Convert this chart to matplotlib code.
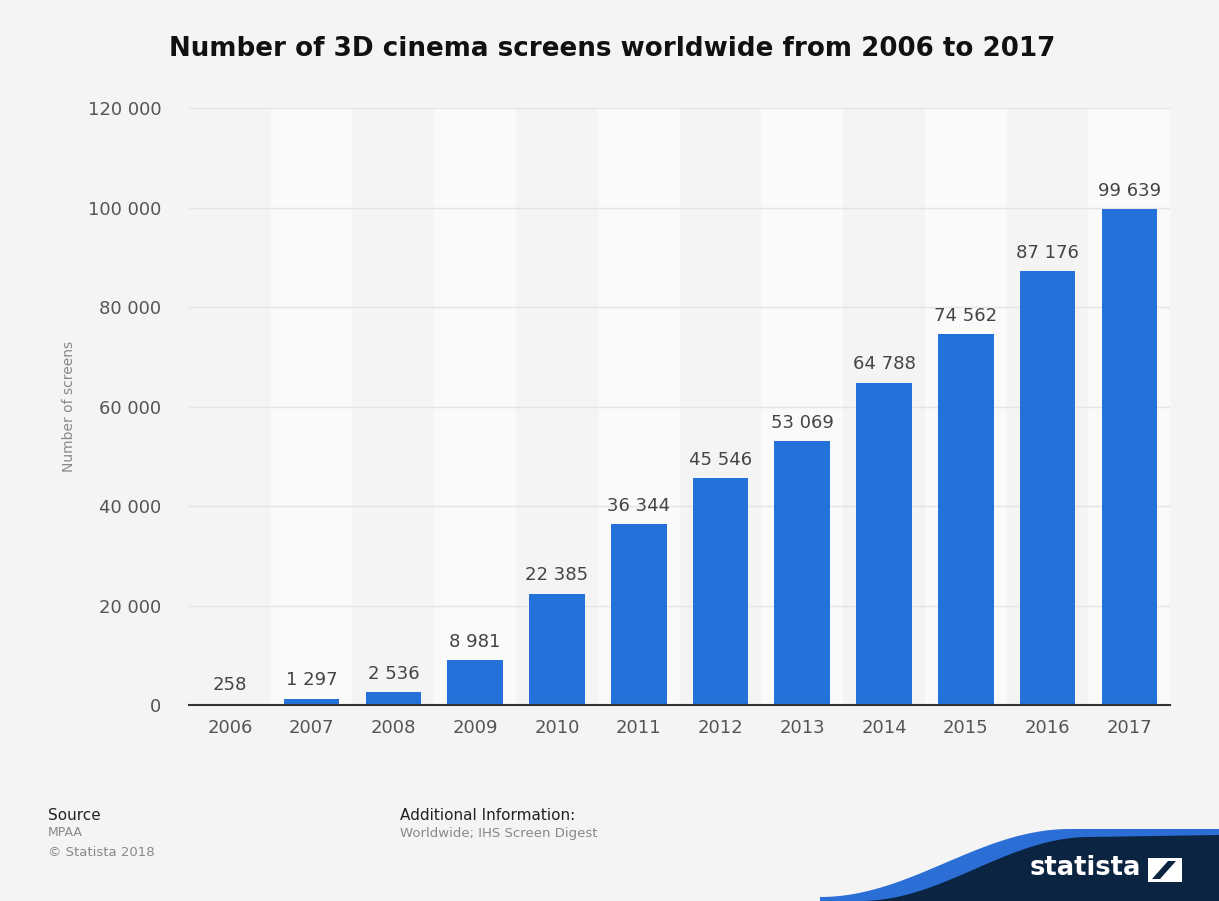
#!/usr/bin/env python3
"""Number of 3D cinema screens worldwide, 2006-2017 (Statista style)."""

import matplotlib
matplotlib.use("Agg")
import matplotlib.pyplot as plt
from matplotlib.patches import Polygon, Rectangle
import numpy as np

years = ["2006", "2007", "2008", "2009", "2010", "2011",
         "2012", "2013", "2014", "2015", "2016", "2017"]
screens = [258, 1297, 2536, 8981, 22385, 36344,
           45546, 53069, 64788, 74562, 87176, 99639]
y_ticks = [0, 20000, 40000, 60000, 80000, 100000, 120000]

BG = "#f4f4f4"
BAR = "#2472d9"
W, H = 1219, 901


def fmt(v):
    return f"{v:,}".replace(",", " ")


def px(x, y):
    # pixel position (from top-left) -> figure fraction
    return x / W, 1 - y / H


fig = plt.figure(figsize=(W / 100, H / 100), dpi=100, facecolor=BG)
ax = fig.add_axes([0.155, 0.2175, 0.805, 0.6625])
ax.set_facecolor(BG)

x = np.arange(len(years))
# alternating column bands
for i in x:
    if i % 2 == 1:
        ax.axvspan(i - 0.5, i + 0.5, color="#fafafa", zorder=0, lw=0)

ax.set_yticks(y_ticks)
ax.set_yticklabels([fmt(t) for t in y_ticks])
ax.yaxis.grid(True, color="#e4e4e4", lw=1, zorder=1)
ax.set_axisbelow(True)

ax.bar(x, screens, width=0.68, color=BAR, zorder=3)
for xi, v in zip(x, screens):
    ax.text(xi, v + 1900, fmt(v), ha="center", va="bottom",
            fontsize=13, color="#444444", zorder=4)

ax.set_xlim(-0.5, len(years) - 0.5)
ax.set_ylim(0, 120000)
ax.set_xticks(x)
ax.set_xticklabels(years)
ax.tick_params(axis="both", length=0, labelsize=13, colors="#555555")
ax.tick_params(axis="x", pad=10)
ax.tick_params(axis="y", pad=20)
for s in ["top", "right", "left"]:
    ax.spines[s].set_visible(False)
ax.spines["bottom"].set_color("#333333")
ax.spines["bottom"].set_linewidth(1.5)
ax.spines["bottom"].set_zorder(5)
ax.set_ylabel("Number of screens", fontsize=10, color="#888888", labelpad=8)

fig.text(0.502, 0.946, "Number of 3D cinema screens worldwide from 2006 to 2017",
         ha="center", va="center", fontsize=18.8, fontweight="bold", color="#111111")

# footer
fig.text(*px(48, 815), "Source", fontsize=11, color="#222222", va="center")
fig.text(*px(48, 832), "MPAA", fontsize=9, color="#888888", va="center")
fig.text(*px(48, 852), "\u00a9 Statista 2018", fontsize=9.5, color="#888888", va="center")
fig.text(*px(400, 815), "Additional Information:", fontsize=11, color="#222222", va="center")
fig.text(*px(400, 833), "Worldwide; IHS Screen Digest", fontsize=9.5, color="#888888", va="center")

# statista logo wave
t = np.linspace(0, 1, 60)
s = 0.5 - 0.5 * np.cos(np.pi * t)
blue = [(820, H)] + list(zip(820 + t * 250, H - (4 + 68 * s))) + [(W, H - 72), (W, H)]
dark = [(860, H)] + list(zip(860 + t * 230, H - 64 * s)) + [(W, H - 66), (W, H)]


def to_fig(pts):
    return [px(a, b) for a, b in pts]


fig.add_artist(Polygon(to_fig(blue), closed=True, transform=fig.transFigure,
                       facecolor="#2b6fd6", edgecolor="none"))
fig.add_artist(Polygon(to_fig(dark), closed=True, transform=fig.transFigure,
                       facecolor="#0b2441", edgecolor="none"))
fig.text(*px(1030, 868), "statista", fontsize=18.5, fontweight="bold",
         color="white", va="center", ha="left")
fig.add_artist(Rectangle(px(1148, 882), 34 / W, 24 / H,
                         transform=fig.transFigure, facecolor="white", edgecolor="none"))
icon = [(1152, 879), (1160, 879), (1176, 861), (1168, 861)]
fig.add_artist(Polygon(to_fig(icon), closed=True, transform=fig.transFigure,
                       facecolor="#0b2441", edgecolor="none"))

fig.savefig("out.png", dpi=100, facecolor=BG)
